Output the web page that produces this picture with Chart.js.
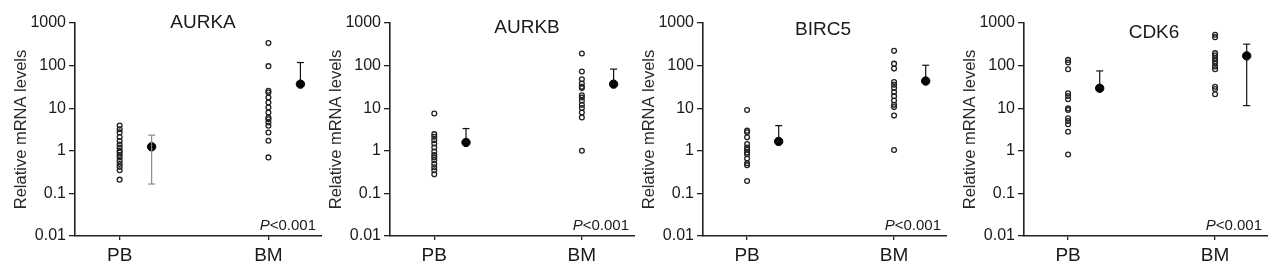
<!DOCTYPE html>
<html><head><meta charset="utf-8">
<script src="https://cdn.jsdelivr.net/npm/chart.js@4.4.1/dist/chart.umd.min.js"></script>
<style>
html,body{margin:0;padding:0;background:#fff;width:1280px;height:276px;overflow:hidden}
canvas{position:absolute;top:0}
</style></head><body>
<canvas id="c0"></canvas><canvas id="c1"></canvas><canvas id="c2"></canvas><canvas id="c3"></canvas>
<script>
// ---- text / categories ----
const genes = ['AURKA', 'AURKB', 'BIRC5', 'CDK6'];
const groups = ['PB', 'BM'];
const yTickValues = [0.01, 0.1, 1, 10, 100, 1000];
const yTickLabels = ['0.01', '0.1', '1', '10', '100', '1000'];
const yAxisTitle = 'Relative mRNA levels';
const pValueItalic = 'P';
const pValueRest = '<0.001';

// ---- data ----
const aurkaPB = [3.9, 3.2, 2.7, 2.1, 1.7, 1.4, 1.2, 1.0, 0.91, 0.8, 0.7, 0.58, 0.49, 0.42, 0.35, 0.21];
const aurkaBM = [337, 97, 25.6, 23.4, 17.8, 13.6, 10.4, 7.9, 6.05, 5.5, 4.6, 3.86, 2.69, 1.72, 0.70];
const aurkaMean = [1.24, 36.7];
const aurkaLow = [0.166, 36.7];
const aurkaHigh = [2.33, 118];

const aurkbPB = [7.5, 2.46, 2.13, 1.78, 1.48, 1.2, 0.96, 0.8, 0.7, 0.6, 0.49, 0.41, 0.35, 0.28];
const aurkbBM = [192, 72.6, 48, 38, 31.7, 29.6, 20.2, 17.8, 14.9, 12, 10.1, 7.9, 6.05, 1.0];
const aurkbMean = [1.57, 36.7];
const aurkbLow = [1.57, 36.7];
const aurkbHigh = [3.33, 82.7];

const birc5PB = [9.1, 2.97, 2.71, 2.07, 1.44, 1.2, 1.06, 0.91, 0.83, 0.66, 0.51, 0.46, 0.195];
const birc5BM = [222, 111, 85, 41, 35.6, 29.7, 23.9, 19.2, 15.2, 12, 10.6, 6.7, 1.04];
const birc5Mean = [1.66, 43.4];
const birc5Low = [1.66, 43.4];
const birc5High = [3.9, 102];

const cdk6PB = [136, 118, 82, 22.4, 19.4, 16.2, 9.9, 9.1, 5.8, 5.0, 4.2, 2.8, 0.82];
const cdk6BM = [529, 466, 196, 173, 149, 129, 112, 95, 82, 32, 28.3, 21.2];
const cdk6Mean = [29.4, 169];
const cdk6Low = [29.4, 11.5];
const cdk6High = [75, 319];

const geneData = [
  {pb: aurkaPB, bm: aurkaBM, mean: aurkaMean, low: aurkaLow, high: aurkaHigh},
  {pb: aurkbPB, bm: aurkbBM, mean: aurkbMean, low: aurkbLow, high: aurkbHigh},
  {pb: birc5PB, bm: birc5BM, mean: birc5Mean, low: birc5Low, high: birc5High},
  {pb: cdk6PB, bm: cdk6BM, mean: cdk6Mean, low: cdk6Low, high: cdk6High}
];

// ---- layout / style (not data) ----
const FONT = '"Liberation Sans", Arial, sans-serif';
const panels = [
  {left: 0,   width: 322, titleDX: 128, titleBase: 28, errColors: ['#8a8a8a', '#111']},
  {left: 315, width: 320, titleDX: 137, titleBase: 33, errColors: ['#111', '#111']},
  {left: 628, width: 319, titleDX: 120, titleBase: 35, errColors: ['#111', '#111']},
  {left: 949, width: 319, titleDX: 130, titleBase: 38, errColors: ['#111', '#111']}
];
const MEAN_OFFSET = 0.215;

const annotate = {
  id: 'annotate',
  afterDraw(chart, args, opts) {
    const {ctx, chartArea} = chart;
    ctx.save();
    ctx.fillStyle = '#1a1a1a';
    ctx.textBaseline = 'alphabetic';
    ctx.textAlign = 'center';
    ctx.font = '19px ' + FONT;
    ctx.fillText(opts.title, chartArea.left + opts.titleDX, opts.titleBase);
    ctx.font = '15px ' + FONT;
    ctx.textAlign = 'right';
    const rx = chartArea.right - 6, by = chartArea.bottom - 6;
    ctx.fillText(pValueRest, rx, by);
    const w = ctx.measureText(pValueRest).width;
    ctx.font = 'italic 15px ' + FONT;
    ctx.fillText(pValueItalic, rx - w, by);
    ctx.restore();
  }
};

panels.forEach((p, i) => {
  const d = geneData[i];
  const cv = document.getElementById('c' + i);
  cv.width = p.width; cv.height = 276;
  cv.style.left = p.left + 'px';
  const open = {pointStyle: 'circle', pointRadius: 2.4, pointBorderWidth: 1.3,
    pointBorderColor: '#222', pointBackgroundColor: 'rgba(255,255,255,0)', showLine: false};
  const datasets = [
    Object.assign({data: d.pb.map(v => ({x: 0, y: v}))}, open),
    Object.assign({data: d.bm.map(v => ({x: 1, y: v}))}, open)
  ];
  [0, 1].forEach(g => {
    datasets.push({
      data: [{x: g + MEAN_OFFSET, y: d.low[g]}, {x: g + MEAN_OFFSET, y: d.high[g]}],
      showLine: true, borderColor: p.errColors[g], borderWidth: 1.2,
      pointStyle: 'line', pointRadius: 3.5, pointBorderColor: p.errColors[g], pointBorderWidth: 1.2
    });
  });
  datasets.push({
    data: d.mean.map((v, g) => ({x: g + MEAN_OFFSET, y: v})),
    pointStyle: 'circle', pointRadius: 4.2, pointBorderWidth: 1,
    pointBackgroundColor: '#000', pointBorderColor: '#000', showLine: false
  });

  new Chart(cv, {
    type: 'scatter',
    data: {datasets},
    plugins: [annotate],
    options: {
      responsive: false, animation: false, devicePixelRatio: 1,
      layout: {autoPadding: false, padding: {top: 23, right: 0, bottom: 0, left: 0}},
      plugins: {legend: {display: false}, tooltip: {enabled: false},
        annotate: {title: genes[i], titleDX: p.titleDX, titleBase: p.titleBase}},
      elements: {point: {hoverRadius: 0}},
      datasets: {scatter: {clip: false}},
      scales: {
        x: {
          type: 'linear', min: -0.3, max: 1.36,
          afterBuildTicks: s => { s.ticks = groups.map((g, k) => ({value: k})); },
          afterFit: s => { s.height = 40; },
          ticks: {callback: (v) => groups[v], font: {family: FONT, size: 19}, color: '#1a1a1a', padding: 4, maxRotation: 0, autoSkip: false},
          grid: {display: true, drawOnChartArea: false, drawTicks: true, tickLength: 4, color: '#222', lineWidth: 1.3},
          border: {display: true, color: '#222', width: 1.6}
        },
        y: {
          type: 'logarithmic', min: 0.01, max: 1000,
          afterBuildTicks: s => { s.ticks = yTickValues.map(v => ({value: v})); },
          afterFit: s => { s.width = 75; },
          ticks: {callback: (v) => yTickLabels[yTickValues.indexOf(v)], font: {family: FONT, size: 16}, color: '#1a1a1a', padding: 3, autoSkip: false},
          grid: {display: true, drawOnChartArea: false, drawTicks: true, tickLength: 6, color: '#222', lineWidth: 1.3},
          border: {display: true, color: '#222', width: 1.6},
          title: {display: true, text: yAxisTitle, font: {family: FONT, size: 16.5}, color: '#2a2a2a', padding: {top: 12, bottom: 0}}
        }
      }
    }
  });
});
</script>
</body></html>
